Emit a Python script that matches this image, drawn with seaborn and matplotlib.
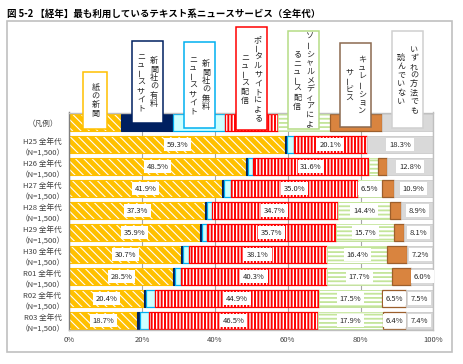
import numpy as np
import pandas as pd
import matplotlib
matplotlib.use('Agg')
import matplotlib.pyplot as plt
from matplotlib.patches import Rectangle
import seaborn as sns

# Data (percent of respondents, N=1,500 each year)
years = ['H25', 'H26', 'H27', 'H28', 'H29', 'H30', 'R01', 'R02', 'R03']
paper = [59.3, 48.5, 41.9, 37.3, 35.9, 30.7, 28.5, 20.4, 18.7]
paid_site = [0.4, 0.6, 0.5, 0.5, 0.6, 0.5, 0.6, 0.6, 0.8]
free_site = [1.9, 1.5, 1.9, 1.3, 1.2, 1.6, 1.5, 2.6, 2.3]
portal = [20.1, 31.6, 35.0, 34.7, 35.7, 38.1, 40.3, 44.9, 46.5]
social = [0.0, 2.6, 6.5, 14.4, 15.7, 16.4, 17.7, 17.5, 17.9]
curation = [0.0, 2.4, 3.3, 2.9, 2.8, 5.5, 5.4, 6.5, 6.4]
none_read = [18.3, 12.8, 10.9, 8.9, 8.1, 7.2, 6.0, 7.5, 7.4]

# the "(凡例)" row shows every category with the same share
legend_row = [14.3, 14.3, 14.3, 14.3, 14.3, 14.3, 14.2]
legend_cols = [
    ['紙の新聞'],
    ['新聞社の有料', 'ニュースサイト'],
    ['新聞社の無料', 'ニュースサイト'],
    ['ポータルサイトによる', 'ニュース配信'],
    ['ソーシャルメディアによ', 'るニュース配信'],
    ['キュレーション', 'サービス'],
    ['いずれの方法でも', '読んでいない'],
]
title = '図 5-2 【経年】最も利用しているテキスト系ニュースサービス（全年代）'

series = [paper, paid_site, free_site, portal, social, curation, none_read]
row_labels = ['（凡例）'] + [f'{y} 全年代\n（N=1,500）' for y in years]

# styling
styles = [
    dict(face='#FFC000', hatch='\\\\\\\\', hcol='white', edge='#FFC000', hlw=0.8, lw=0.8),
    dict(face='#002060', hatch=None, hcol=None, edge='#002060', hlw=0, lw=0.8),
    dict(face='#CCFFFF', hatch=None, hcol=None, edge='#00B0F0', hlw=0, lw=0.9),
    dict(face='white', hatch='|||||', hcol='#FF0000', edge='#FF0000', hlw=1.4, lw=0.9),
    dict(face='white', hatch='----', hcol='#C4E59A', edge='#C4E59A', hlw=1.3, lw=0.6),
    dict(face='#D9843F', hatch=None, hcol=None, edge='#9C5F2C', hlw=0, lw=0.9),
    dict(face='#D9D9D9', hatch=None, hcol=None, edge='#CFCFCF', hlw=0, lw=0.6),
]
box_edges = ['#FFC000', '#002060', '#00B0F0', '#FF0000', '#B5DC85', '#8C6A4F', '#D0D0D0']
box_tops = [71.7, 41.0, 42.0, 27.3, 30.7, 43.3, 30.7]
box_bottoms = [129.3, 123.3, 128.3, 130.0, 129.3, 127.3, 128.3]

sns.set_theme(style='white')
plt.rcParams['font.family'] = ['Noto Sans CJK JP', 'DejaVu Sans']
plt.rcParams['hatch.linewidth'] = 1.2

W, H = 463, 364
fig = plt.figure(figsize=(W / 100, H / 100), dpi=100)
ax = fig.add_axes([69.3 / W, 1 - 330 / H, 364 / W, 217.5 / H])


def fx(px):
    return px / W


def fy(py):
    return 1 - py / H


# row backgrounds through seaborn (full length of every row)
totals = [sum(legend_row)] + [sum(v) for v in zip(*series)]
bg = pd.DataFrame({'row': row_labels, 'total': totals})
sns.barplot(data=bg, x='total', y='row', order=row_labels, color='#D9D9D9',
            saturation=1, edgecolor='#C8C8C8', linewidth=0.6, width=0.8,
            errorbar=None, ax=ax)

pos = np.arange(len(row_labels))
lefts = np.zeros(len(row_labels))
for i, vals in enumerate(series):
    st = styles[i]
    widths = np.array([legend_row[i]] + list(vals))
    if st['hatch']:
        bars = ax.barh(pos, widths, left=lefts, height=0.8, color=st['face'],
                       edgecolor=st['hcol'], linewidth=0, hatch=st['hatch'], zorder=2)
        for b in bars:
            if hasattr(b, 'set_hatch_linewidth'):
                b.set_hatch_linewidth(st['hlw'])
        outl = ax.barh(pos, widths, left=lefts, height=0.8, fill=False,
                       edgecolor=st['edge'], linewidth=st['lw'], zorder=2)
    else:
        bars = ax.barh(pos, widths, left=lefts, height=0.8, color=st['face'],
                       edgecolor=st['edge'], linewidth=st['lw'], zorder=2)
    for b, w in zip(bars, widths):
        if w <= 0:
            b.set_visible(False)
    if st['hatch']:
        for b, w in zip(outl, widths):
            if w <= 0:
                b.set_visible(False)

    # value labels
    if i not in (1, 2):
        for r, v in enumerate(vals):
            if v >= 6:
                if i in (4, 5) and v < 7:
                    bars[r + 1].set_facecolor('white')
                    bars[r + 1].set_hatch(None)
                ax.text(lefts[r + 1] + v / 2, r + 1, f'{v:.1f}%', ha='center', va='center',
                        fontsize=5.5, color='#262626', zorder=4,
                        bbox=dict(boxstyle='square,pad=0.35', fc='white', ec='none'))
    lefts += widths

ax.set_xlim(0, 100)
ax.set_ylim(9.43, -0.455)
ax.set_xticks([0, 20, 40, 60, 80, 100])
ax.set_xticklabels(['0%', '20%', '40%', '60%', '80%', '100%'], fontsize=5.5, color='#404040')
ax.set_yticks(pos)
ax.set_yticklabels(row_labels, fontsize=5.5, color='#404040', ha='center', linespacing=1.6)
ax.tick_params(axis='y', length=0, pad=19.3)
ax.tick_params(axis='x', length=0, pad=4)
ax.set_xlabel('')
ax.set_ylabel('')
ax.xaxis.grid(True, color='#A6A6A6', linewidth=0.8)
ax.set_axisbelow(True)
for side in ['top', 'right', 'bottom']:
    ax.spines[side].set_color('#BFBFBF')
    ax.spines[side].set_linewidth(1.0)
ax.spines['left'].set_color('#7F7F7F')
ax.spines['left'].set_linewidth(1.0)

# legend boxes with vertical text above the (凡例) row
fig.canvas.draw()
cum = np.cumsum([0] + legend_row)
pitch = 8.7
for k, cols in enumerate(legend_cols):
    cx_data = (cum[k] + cum[k + 1]) / 2
    cx = ax.transData.transform((cx_data, 0))[0]
    bw = 24 if len(cols) == 1 else 31.5
    top, bot = box_tops[k], box_bottoms[k]
    fig.add_artist(Rectangle((fx(cx - bw / 2), fy(bot)), bw / W, (bot - top) / H,
                             transform=fig.transFigure, facecolor='white',
                             edgecolor=box_edges[k], linewidth=1.1, zorder=5))
    cy = (top + bot) / 2
    offsets = [0] if len(cols) == 1 else [6.5, -6.5]
    for col, dx in zip(cols, offsets):
        n = len(col)
        y0 = cy - (n - 1) * pitch / 2
        for j, ch in enumerate(col):
            fig.text(fx(cx + dx), fy(y0 + j * pitch), ch, ha='center', va='center',
                     fontsize=5.8, color='#262626', rotation=90 if ch == 'ー' else 0,
                     zorder=6)

# outer frame and title
fig.add_artist(Rectangle((fx(7), fy(352)), 445 / W, 331 / H, transform=fig.transFigure,
                         fill=False, edgecolor='#C0C0C0', linewidth=1.2, zorder=0))
fig.text(fx(7), fy(14), title, ha='left', va='center', fontsize=6.8,
         fontweight='bold', color='#000000')

fig.savefig('out.png', dpi=100)
